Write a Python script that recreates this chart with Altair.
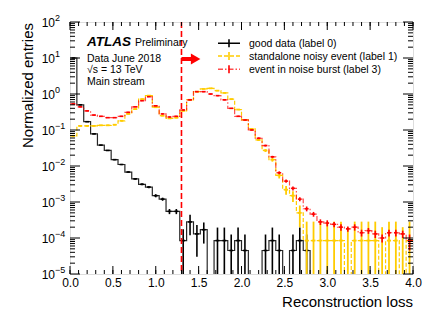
import altair as alt
import pandas as pd

# ---------------- data ----------------
bin_width = 0.08
n_bins = 50
edges = [round(i * bin_width, 2) for i in range(n_bins + 1)]

good = [10, 0.5, 0.17, 0.078, 0.038, 0.027, 0.015, 0.011, 0.0068, 0.0044,
        0.0031, 0.0026, 0.0015, 0.0012, 0.00055, 0.00055, 0.000085, 0.00028, 0.00013, 0.00017,
        0, 0.000085, 0.000085, 0.000045, 0.000085, 0.000045, 0, 0, 0.000045, 0.000085,
        0.000045, 0, 0.000045, 0.000085, 0.000045, 0, 0, 0, 0, 0,
        0, 0, 0, 0, 0, 0, 0, 0, 0, 0]
good_err = [0.05, 0.01, 0.004, 0.002, 0.0012, 0.0008, 0.0005, 0.0004, 0.0003, 0.00025,
            0.0002, 0.0002, 0.00015, 0.00012, 0.00009, 0.00009, 0.00009, 0.00016, 0.0001, 0.0001,
            0, 0.00011, 0.00011, 0.00008, 0.00011, 0.00008, 0, 0, 0.00008, 0.00011,
            0.00008, 0, 0.00008, 0.00011, 0.00008, 0, 0, 0, 0, 0,
            0, 0, 0, 0, 0, 0, 0, 0, 0, 0]

standalone = [0.069, 0.13, 0.13, 0.13, 0.135, 0.135, 0.14, 0.18, 0.28, 0.38,
              0.72, 0.9, 0.43, 0.25, 0.21, 0.22, 0.34, 0.69, 1.16, 1.38,
              1.44, 1.24, 1.07, 0.72, 0.37, 0.19, 0.107, 0.053, 0.027, 0.015,
              0.0055, 0.0022, 0.0015, 0.0005, 0.000085, 0.000085, 0.000085, 0.000085, 0.000085, 0.000085,
              0, 0.000085, 0.000085, 0.000085, 0.000085, 0, 0.000085, 0.000085, 0, 0.000085]
standalone_err = [0.004, 0.005, 0.005, 0.005, 0.005, 0.005, 0.005, 0.006, 0.008, 0.01,
                  0.015, 0.017, 0.012, 0.008, 0.007, 0.007, 0.01, 0.015, 0.02, 0.022,
                  0.022, 0.02, 0.018, 0.014, 0.01, 0.007, 0.005, 0.0035, 0.0025, 0.0018,
                  0.001, 0.0006, 0.0005, 0.0003, 0.0002, 0.0002, 0.0002, 0.0002, 0.0002, 0.0002,
                  0.0002, 0.0002, 0.0002, 0.0002, 0.0002, 0.0002, 0.0002, 0.0002, 0.0002, 0.0002]

burst = [0.53, 0.44, 0.34, 0.26, 0.24, 0.22, 0.22, 0.24, 0.31, 0.44,
         0.65, 0.84, 0.47, 0.28, 0.23, 0.24, 0.36, 0.69, 1.16, 1.16,
         1.0, 0.9, 0.69, 0.4, 0.24, 0.19, 0.10, 0.059, 0.037, 0.018,
         0.0065, 0.0038, 0.0024, 0.0012, 0.00065, 0.00046, 0.00028, 0.00026, 0.00024, 0.0002,
         0.00018, 0.0002, 0.00014, 0.00016, 0.00013, 0.0001, 0.00014, 0.00014, 0.00013, 0.000085]
burst_err = [0.01, 0.01, 0.008, 0.006, 0.006, 0.005, 0.005, 0.006, 0.007, 0.009,
             0.012, 0.015, 0.01, 0.007, 0.006, 0.006, 0.01, 0.02, 0.03, 0.03,
             0.03, 0.025, 0.02, 0.012, 0.008, 0.006, 0.004, 0.003, 0.002, 0.0012,
             0.0006, 0.0004, 0.0003, 0.00015, 0.0001, 0.00007, 0.00005, 0.00005, 0.00004, 0.00004,
             0.00003, 0.00004, 0.00003, 0.00003, 0.00003, 0.000025, 0.00003, 0.00003, 0.00003, 0.00004]

cut_value = 1.3
x_major = [0, 0.5, 1.0, 1.5, 2.0, 2.5, 3.0, 3.5, 4.0]
x_minor = [round(i * 0.1, 1) for i in range(41)]
decades = [-5, -4, -3, -2, -1, 0, 1, 2]
exp_labels = ["\u22125", "\u22124", "\u22123", "\u22122", "\u22121", "0", "1", "2"]

legend_labels = ["good data (label 0)", "standalone noisy event (label 1)",
                 "event in noise burst (label 3)"]

# ---------------- layout ----------------
W, H = 343, 252
FONT = "Liberation Sans"
FLOOR = 1e-8
BLACK, YELLOW, RED = "#000000", "#FFCC00", "#FF0000"

xscale = alt.Scale(domain=[0, 4], nice=False, zero=False)
yscale = alt.Scale(type="log", domain=[1e-5, 100], nice=False)
xaxis = alt.Axis(values=x_major, format=".1f", ticks=False, domain=False, grid=False,
                 labelFont=FONT, labelFontSize=12, labelPadding=3, labelColor="black",
                 title=None, labelFlush=False)
X = alt.X("x:Q", scale=xscale, axis=xaxis)
Y = alt.Y("y:Q", scale=yscale, axis=None)


def step_df(vals):
    ys = [max(v, FLOOR) for v in vals] + [max(vals[-1], FLOOR)]
    return pd.DataFrame({"x": edges, "y": ys})


def err_df(vals, errs):
    rows = []
    for i, (v, e) in enumerate(zip(vals, errs)):
        if e <= 0:
            continue
        xc = edges[i] + bin_width / 2
        rows.append({"x": xc, "y": max(v - e, FLOOR), "y2": v + e,
                     "xl": xc - 0.022, "xr": xc + 0.022, "v": max(v, FLOOR)})
    return pd.DataFrame(rows)


def hist_layers(vals, errs, color, dash, opacity, width, ebar_w):
    line = alt.Chart(step_df(vals)).mark_line(
        interpolate="step-after", color=color, strokeDash=dash, opacity=opacity,
        strokeWidth=width, clip=True).encode(x=X, y=Y)
    ed = err_df(vals, errs)
    vbar = alt.Chart(ed).mark_rule(color=color, strokeWidth=ebar_w, clip=True).encode(
        x=X, y=Y, y2="y2:Q")
    hbar = alt.Chart(ed).mark_rule(color=color, strokeWidth=ebar_w, clip=True).encode(
        x=alt.X("xl:Q", scale=xscale, axis=xaxis), x2="xr:Q",
        y=alt.Y("v:Q", scale=yscale, axis=None))
    return [line, vbar, hbar]


layers = []
layers += hist_layers(good, good_err, BLACK, [1, 0], 0.85, 1.2, 1.6)
layers += hist_layers(standalone, standalone_err, YELLOW, [4, 2], 1.0, 1.2, 1.8)
layers += hist_layers(burst, burst_err, RED, [5, 2, 1.5, 2], 0.7, 1.2, 1.6)

# cut line and arrow
cut = alt.Chart(pd.DataFrame({"x": [cut_value]})).mark_rule(
    color=RED, strokeDash=[6, 3], strokeWidth=1.6).encode(x=X)
arrow_shaft = alt.Chart(pd.DataFrame({"x": [cut_value], "x2": [cut_value + 0.13]})).mark_rule(
    color=RED, strokeWidth=4).encode(x=X, x2="x2:Q", y=alt.value(37))
arrow_head = alt.Chart(pd.DataFrame({"x": [cut_value + 0.165]})).mark_point(
    shape="triangle-right", filled=True, color=RED, opacity=1, size=120).encode(
    x=X, y=alt.value(37))
layers += [cut, arrow_shaft, arrow_head]

# inward ticks on all four sides
xmaj = pd.DataFrame({"x": x_major})
xmin = pd.DataFrame({"x": x_minor})
ymaj = pd.DataFrame({"y": [10.0 ** e for e in decades]})
ymin = pd.DataFrame({"y": [m * 10.0 ** e for e in decades[:-1] for m in range(2, 10)]})
tk = dict(color="black", strokeWidth=1)
layers += [
    alt.Chart(xmaj).mark_rule(**tk).encode(x=X, y=alt.value(H), y2=alt.value(H - 8)),
    alt.Chart(xmin).mark_rule(**tk).encode(x=X, y=alt.value(H), y2=alt.value(H - 4)),
    alt.Chart(xmaj).mark_rule(**tk).encode(x=X, y=alt.value(0), y2=alt.value(8)),
    alt.Chart(xmin).mark_rule(**tk).encode(x=X, y=alt.value(0), y2=alt.value(4)),
    alt.Chart(ymaj).mark_rule(**tk).encode(y=Y, x=alt.value(0), x2=alt.value(10)),
    alt.Chart(ymin).mark_rule(**tk).encode(y=Y, x=alt.value(0), x2=alt.value(5)),
    alt.Chart(ymaj).mark_rule(**tk).encode(y=Y, x=alt.value(W), x2=alt.value(W - 10)),
    alt.Chart(ymin).mark_rule(**tk).encode(y=Y, x=alt.value(W), x2=alt.value(W - 5)),
]

# y tick labels 10^n
ylab = pd.DataFrame({"y": [10.0 ** e for e in decades], "exp": exp_labels})
layers += [
    alt.Chart(ylab).mark_text(font=FONT, fontSize=12, align="right", baseline="middle",
                              dy=1, color="black").encode(
        y=Y, x=alt.value(-15), text=alt.value("10")),
    alt.Chart(ylab).mark_text(font=FONT, fontSize=9, align="left", baseline="middle",
                              dy=-4, color="black").encode(
        y=Y, x=alt.value(-15), text="exp:N"),
]

# axis titles
layers += [
    alt.Chart(pd.DataFrame({"t": ["Reconstruction loss"]})).mark_text(
        font=FONT, fontSize=15, align="right", baseline="alphabetic", color="black").encode(
        x=alt.value(W), y=alt.value(285), text="t:N"),
    alt.Chart(pd.DataFrame({"t": ["Normalized entries"]})).mark_text(
        font=FONT, fontSize=15, align="right", baseline="alphabetic", angle=270,
        color="black").encode(x=alt.value(-37), y=alt.value(1), text="t:N"),
]

# ATLAS labels
layers += [
    alt.Chart(pd.DataFrame({"t": ["ATLAS"]})).mark_text(
        font=FONT, fontSize=13.5, fontWeight="bold", fontStyle="italic", align="left",
        baseline="alphabetic", color="black").encode(x=alt.value(17), y=alt.value(23.7), text="t:N"),
    alt.Chart(pd.DataFrame({"t": ["Preliminary"]})).mark_text(
        font=FONT, fontSize=10.5, align="left", baseline="alphabetic", color="black").encode(
        x=alt.value(65), y=alt.value(23.7), text="t:N"),
    alt.Chart(pd.DataFrame({"t": ["Data June 2018"]})).mark_text(
        font=FONT, fontSize=10.5, align="left", baseline="alphabetic", color="black").encode(
        x=alt.value(17), y=alt.value(39.5), text="t:N"),
    alt.Chart(pd.DataFrame({"t": ["\u221as = 13 TeV"]})).mark_text(
        font=FONT, fontSize=10.5, align="left", baseline="alphabetic", color="black").encode(
        x=alt.value(17), y=alt.value(51), text="t:N"),
    alt.Chart(pd.DataFrame({"t": ["Main stream"]})).mark_text(
        font=FONT, fontSize=10.5, align="left", baseline="alphabetic", color="black").encode(
        x=alt.value(17), y=alt.value(63), text="t:N"),
]

# legend
leg_styles = [(BLACK, [1, 0], 1.0), (YELLOW, [4, 2], 1.0), (RED, [5, 2, 1.5, 2], 0.7)]
leg_y = [21.3, 34, 47.3]
for lab, (col, dash, op), yy in zip(legend_labels, leg_styles, leg_y):
    one = pd.DataFrame({"t": [lab]})
    layers += [
        alt.Chart(one).mark_rule(color=col, strokeDash=dash, opacity=op, strokeWidth=1.4).encode(
            x=alt.value(148), x2=alt.value(170), y=alt.value(yy)),
        alt.Chart(one).mark_rule(color=col, strokeWidth=1.6).encode(
            x=alt.value(159), y=alt.value(yy - 4), y2=alt.value(yy + 4)),
        alt.Chart(one).mark_text(font=FONT, fontSize=10.5, align="left", baseline="middle",
                                 color="black").encode(
            x=alt.value(179), y=alt.value(yy + 0.5), text="t:N"),
    ]

chart = alt.layer(*layers).properties(
    width=W, height=H,
    autosize=alt.AutoSizeParams(type="none"),
    padding={"left": 62, "top": 14, "right": 12, "bottom": 40},
).configure_view(stroke="black", strokeWidth=1).configure(background="white")

chart.save("out.html", embed_options={"renderer": "svg", "actions": False})
